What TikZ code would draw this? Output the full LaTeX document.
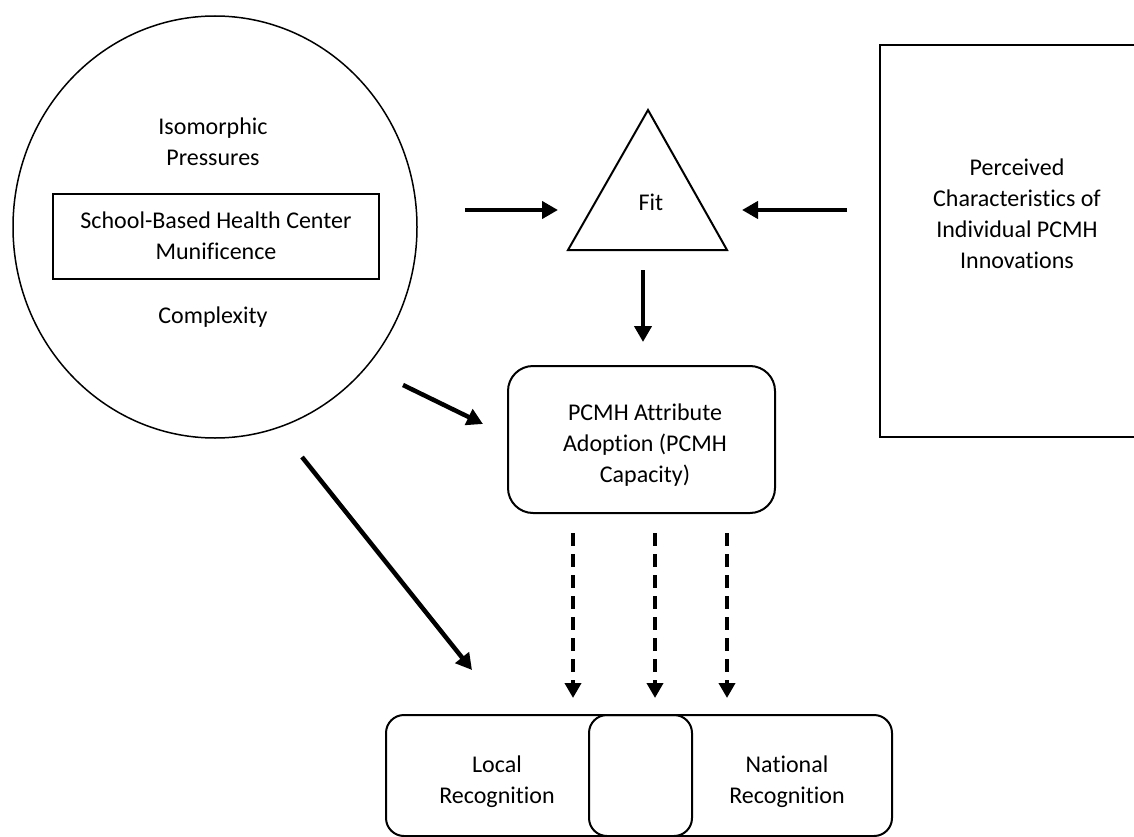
\documentclass[tikz,border=0pt]{standalone}
\usepackage{fontspec}
\setmainfont{Carlito}[Ligatures=NoCommon]
\usetikzlibrary{arrows.meta,shapes.geometric}
\begin{document}
\begin{tikzpicture}[x=1pt,y=-1pt,
  txt/.style={font=\fontsize{24}{31}\selectfont, align=center, inner sep=0pt},
  thinline/.style={draw, line width=1.5pt},
  boxline/.style={draw, line width=2pt},
  arr/.style={line width=4.5pt, -{Triangle[length=16pt,width=17pt]}},
  darr/.style={line width=4pt, dash pattern=on 13pt off 8pt, -{Triangle[length=15pt,width=16pt]}}
]
\useasboundingbox (0,0) rectangle (1134,837);
\clip (0,0) rectangle (1134,837);

% left ellipse
\node[ellipse, thinline, minimum width=404pt, minimum height=422pt, inner sep=0pt] (env) at (215,227) {};
\node[txt] (iso) at (213,141.5) {Isomorphic\\Pressures};
\node[draw, line width=2pt, minimum width=326pt, minimum height=85pt, inner sep=0pt] (sbhc) at (216,236.5) {};
\node[txt] (sbhct) at (216,235.5) {School-Based Health Center\\Munificence};
\node[txt] (cmp) at (213,317) {Complexity};

% triangle
\coordinate (ta) at (648,110);
\coordinate (tl) at (568,250);
\coordinate (tr) at (727,250);
\draw[line width=2pt, line join=miter] (ta) -- (tl) -- (tr) -- cycle;
\node[txt] (fit) at (651,202) {Fit};

% right rectangle
\node[boxline, minimum width=262pt, minimum height=392pt, inner sep=0pt] (perc) at (1011,241) {};
\node[txt] (perct) at (1017,214) {Perceived\\Characteristics of\\Individual PCMH\\Innovations};

% PCMH box
\node[boxline, rounded corners=25pt, minimum width=267pt, minimum height=147pt, inner sep=0pt] (pcmh) at (641.5,439.5) {};
\node[txt] (pcmht) at (645,445) {PCMH Attribute\\Adoption (PCMH\\Capacity)};

% bottom boxes
\node[boxline, rounded corners=18pt, minimum width=306pt, minimum height=121pt, inner sep=0pt] (local) at (539,775.5) {};
\node[boxline, rounded corners=18pt, minimum width=303pt, minimum height=121pt, inner sep=0pt] (natl) at (740.5,775.5) {};
\node[txt] (localt) at (497,782) {Local\\Recognition};
\node[txt] (natlt) at (787,782) {National\\Recognition};

% arrow end points
\coordinate (a1s) at (465,210);
\coordinate (a1e) at (558,210);
\coordinate (a2s) at (847,210);
\coordinate (a2e) at (742,210);
\coordinate (a3s) at (643,270);
\coordinate (a3e) at (643,342);
\coordinate (a4s) at (403,385);
\coordinate (a4e) at (483,424);
\coordinate (a5s) at (302,457);
\coordinate (a5e) at (472,670);
\coordinate (d1s) at (573,533);
\coordinate (d1e) at (573,698);
\coordinate (d2s) at (655,533);
\coordinate (d2e) at (655,698);
\coordinate (d3s) at (727,533);
\coordinate (d3e) at (727,698);

\draw[arr] (a1s) -- (a1e);
\draw[arr] (a2s) -- (a2e);
\draw[arr] (a3s) -- (a3e);
\draw[arr] (a4s) -- (a4e);
\draw[arr] (a5s) -- (a5e);
\draw[darr] (d1s) -- (d1e);
\draw[darr] (d2s) -- (d2e);
\draw[darr] (d3s) -- (d3e);
\end{tikzpicture}
\end{document}
